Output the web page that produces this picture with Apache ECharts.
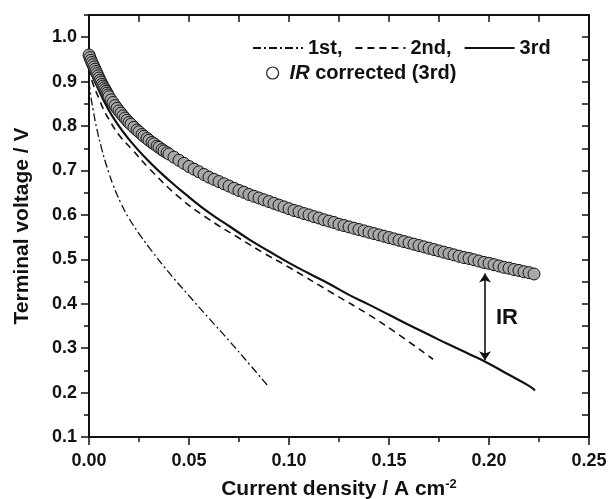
<!DOCTYPE html>
<html>
<head>
<meta charset="utf-8">
<script src="https://cdn.jsdelivr.net/npm/echarts@6/dist/echarts.min.js"></script>
<style>
  html, body { margin: 0; padding: 0; background: #fff; }
  #chart { width: 608px; height: 499px; }
</style>
</head>
<body>
<div id="chart"></div>
<script>
// 1st run (dash-dot)
const firstX = [0.000, 0.001, 0.002, 0.004, 0.006, 0.008, 0.010, 0.012, 0.016, 0.020, 0.025, 0.030, 0.040, 0.050, 0.060, 0.070, 0.080, 0.090];
const firstV = [0.900, 0.865, 0.838, 0.792, 0.755, 0.722, 0.694, 0.668, 0.626, 0.592, 0.558, 0.527, 0.470, 0.418, 0.367, 0.317, 0.265, 0.212];

// 2nd run (dashed)
const secondX = [0.000, 0.002, 0.005, 0.007, 0.010, 0.015, 0.022, 0.030, 0.045, 0.060, 0.075, 0.087, 0.100, 0.122, 0.140, 0.155, 0.172];
const secondV = [0.930, 0.895, 0.862, 0.840, 0.815, 0.780, 0.745, 0.705, 0.640, 0.590, 0.548, 0.515, 0.482, 0.423, 0.375, 0.330, 0.275];

// 3rd run (solid)
const thirdX = [0.000, 0.002, 0.005, 0.010, 0.015, 0.020, 0.030, 0.040, 0.050, 0.060, 0.070, 0.080, 0.090, 0.100, 0.110, 0.120, 0.130, 0.140, 0.150, 0.160, 0.170, 0.180, 0.190, 0.200, 0.210, 0.220, 0.223];
const thirdV = [0.950, 0.915, 0.880, 0.835, 0.800, 0.770, 0.720, 0.678, 0.640, 0.605, 0.575, 0.545, 0.518, 0.492, 0.468, 0.445, 0.420, 0.398, 0.375, 0.352, 0.330, 0.308, 0.287, 0.265, 0.240, 0.215, 0.205];

// IR corrected (3rd), open circles
const irX = [0.000, 0.0005, 0.001, 0.0015, 0.002, 0.0025, 0.003, 0.0035, 0.004, 0.0045, 0.005, 0.0055, 0.006, 0.0065, 0.007, 0.0075,
  0.008, 0.0085, 0.009, 0.0095, 0.010, 0.011, 0.012, 0.013, 0.014, 0.015, 0.016, 0.017, 0.018, 0.019, 0.020, 0.021,
  0.0225, 0.024, 0.025, 0.0265, 0.0275, 0.029, 0.030, 0.0315, 0.0325, 0.034, 0.035, 0.0365, 0.0375, 0.039, 0.040,
  0.0425, 0.045, 0.0475, 0.050, 0.0525, 0.055, 0.0575, 0.060,
  0.0625, 0.065, 0.0675, 0.070, 0.0725, 0.075, 0.0775, 0.080, 0.0825, 0.085, 0.0875, 0.090, 0.0925, 0.095, 0.0975, 0.100,
  0.1025, 0.105, 0.1075, 0.110, 0.1125, 0.115, 0.1175, 0.120, 0.1225, 0.125, 0.1275, 0.130, 0.1325, 0.135, 0.1375, 0.140,
  0.1425, 0.145, 0.1475, 0.150, 0.1525, 0.155, 0.1575, 0.160, 0.1625, 0.165, 0.1675, 0.170, 0.1725, 0.175, 0.1775, 0.180,
  0.1825, 0.185, 0.1875, 0.190, 0.1925, 0.195, 0.1975, 0.200, 0.2025, 0.205, 0.2075, 0.210, 0.2125, 0.215, 0.2175, 0.220, 0.2225];
const irV = [0.960, 0.954, 0.948, 0.943, 0.938, 0.933, 0.928, 0.923, 0.918, 0.913, 0.908, 0.903, 0.899, 0.894, 0.890, 0.886,
  0.882, 0.878, 0.874, 0.870, 0.866, 0.859, 0.853, 0.846, 0.840, 0.834, 0.829, 0.823, 0.818, 0.813, 0.808, 0.804,
  0.797, 0.791, 0.787, 0.781, 0.777, 0.772, 0.768, 0.763, 0.760, 0.755, 0.752, 0.747, 0.744, 0.740, 0.737,
  0.730, 0.723, 0.716, 0.709, 0.703, 0.697, 0.691, 0.685,
  0.680, 0.675, 0.670, 0.665, 0.660, 0.655, 0.651, 0.646, 0.642, 0.638, 0.634, 0.630, 0.626, 0.622, 0.618, 0.614,
  0.610, 0.607, 0.603, 0.600, 0.596, 0.593, 0.589, 0.586, 0.583, 0.579, 0.576, 0.573, 0.570, 0.567, 0.564, 0.561,
  0.558, 0.555, 0.552, 0.549, 0.546, 0.543, 0.540, 0.537, 0.534, 0.531, 0.528, 0.525, 0.522, 0.519, 0.516, 0.513,
  0.510, 0.507, 0.504, 0.502, 0.499, 0.496, 0.493, 0.491, 0.488, 0.485, 0.482, 0.480, 0.477, 0.475, 0.472, 0.470, 0.467];

const seriesNames = ["1st,", "2nd,", "3rd", "IR corrected (3rd)"];

// IR arrow annotation (data units)
const irArrowX = 0.198;
const irArrowFrom = 0.468;
const irArrowTo = 0.273;
const irLabelPos = [0.209, 0.369];

const FONT = "'Liberation Sans', Arial, sans-serif";
const zip = (xs, ys) => xs.map((x, i) => [x, ys[i]]);

const chart = echarts.init(document.getElementById("chart"), null, { renderer: "canvas" });

const tickLabel = { fontFamily: FONT, fontSize: 18, fontWeight: "bold", color: "#111" };
const frameLine = { show: true, onZero: false, lineStyle: { color: "#111", width: 2 } };

const option = {
  animation: false,
  backgroundColor: "#fff",
  // fixed plot box; do not let v6 shrink it to fit the labels
  grid: { left: 89, right: 19, top: 15, bottom: 62, outerBoundsMode: "none" },
  legend: [
    {
      data: seriesNames.slice(0, 3),
      left: 252,
      top: 38,
      padding: 0,
      itemWidth: 50,
      itemHeight: 12,
      itemGap: 12,
      // hide the marker dot, keep only the line sample
      itemStyle: { opacity: 0 },
      textStyle: { fontFamily: FONT, fontSize: 20, fontWeight: "bold", color: "#111" },
    },
    {
      data: [seriesNames[3]],
      left: 266,
      top: 63,
      padding: 0,
      itemWidth: 24,
      itemHeight: 12,
      itemStyle: { color: "#fff", borderColor: "#222", borderWidth: 1.2 },
      textStyle: {
        fontFamily: FONT, fontSize: 20, fontWeight: "bold", color: "#111",
        rich: { i: { fontFamily: FONT, fontSize: 20, fontWeight: "bold", fontStyle: "italic", color: "#111" } },
      },
      formatter: () => "{i|IR} corrected (3rd)",
    },
  ],
  xAxis: [
    {
      type: "value", position: "bottom", min: 0, max: 0.25, interval: 0.05,
      axisLine: frameLine,
      axisTick: { show: true, inside: false, length: 8, lineStyle: { color: "#111", width: 1.5 } },
      minorTick: { show: true, splitNumber: 2, length: 5, lineStyle: { color: "#111", width: 1.5 } },
      splitLine: { show: false },
      axisLabel: { ...tickLabel, margin: 15, formatter: (v) => v.toFixed(2) },
      name: "{a|Current density / A cm}{s|-2}",
      nameLocation: "middle",
      nameGap: 41,
      nameTextStyle: {
        rich: {
          a: { fontFamily: FONT, fontSize: 21, fontWeight: "bold", color: "#111", lineHeight: 22 },
          s: { fontFamily: FONT, fontSize: 13, fontWeight: "bold", color: "#111", verticalAlign: "top", lineHeight: 22 },
        },
      },
    },
    {
      type: "value", position: "top", min: 0, max: 0.25, interval: 0.025,
      axisLine: frameLine,
      axisTick: { show: true, inside: true, length: 7, lineStyle: { color: "#111", width: 1.5 } },
      splitLine: { show: false },
      axisLabel: { show: false },
    },
  ],
  yAxis: [
    {
      type: "value", position: "left", min: 0.1, max: 1.05, interval: 0.1,
      axisLine: frameLine,
      axisTick: { show: true, inside: false, length: 8, lineStyle: { color: "#111", width: 1.5 } },
      splitLine: { show: false },
      axisLabel: { ...tickLabel, margin: 12, showMaxLabel: false, formatter: (v) => (v > 1.01 ? "" : v.toFixed(1)) },
      name: "Terminal voltage / V",
      nameLocation: "middle",
      nameGap: 56,
      nameTextStyle: { fontFamily: FONT, fontSize: 21, fontWeight: "bold", color: "#111" },
    },
    {
      type: "value", position: "left", min: 0.1, max: 1.05, interval: 0.05,
      axisLine: { show: false },
      axisTick: { show: true, inside: false, length: 5, lineStyle: { color: "#111", width: 1.5 } },
      splitLine: { show: false },
      axisLabel: { show: false },
    },
    {
      type: "value", position: "right", min: 0.1, max: 1.05, interval: 0.05,
      axisLine: frameLine,
      axisTick: { show: true, inside: true, length: 7, lineStyle: { color: "#111", width: 1.5 } },
      splitLine: { show: false },
      axisLabel: { show: false },
    },
  ],
  series: [
    {
      name: seriesNames[0],
      type: "line",
      data: zip(firstX, firstV),
      symbol: "none",
      smooth: true,
      lineStyle: { color: "#111", width: 1.3, type: [8, 3, 2, 3] },
      itemStyle: { color: "#111" },
    },
    {
      name: seriesNames[1],
      type: "line",
      data: zip(secondX, secondV),
      symbol: "none",
      smooth: true,
      lineStyle: { color: "#111", width: 1.6, type: [7, 5] },
      itemStyle: { color: "#111" },
    },
    {
      name: seriesNames[2],
      type: "line",
      data: zip(thirdX, thirdV),
      symbol: "none",
      smooth: true,
      lineStyle: { color: "#111", width: 2.2, type: "solid" },
      itemStyle: { color: "#111" },
      markLine: {
        silent: true,
        symbol: ["arrow", "arrow"],
        symbolSize: 9,
        label: { show: false },
        lineStyle: { color: "#111", width: 1.6, type: "solid" },
        data: [[{ coord: [irArrowX, irArrowFrom] }, { coord: [irArrowX, irArrowTo] }]],
      },
      markPoint: {
        silent: true,
        symbol: "circle",
        symbolSize: 0,
        label: { show: true, formatter: "IR", fontFamily: FONT, fontSize: 22, fontWeight: "bold", color: "#111" },
        data: [{ coord: irLabelPos }],
      },
    },
    {
      name: seriesNames[3],
      type: "scatter",
      data: zip(irX, irV),
      symbol: "circle",
      symbolSize: 12,
      itemStyle: { color: "#a8a8a8", borderColor: "#151515", borderWidth: 1, opacity: 1 },
      z: 3,
    },
  ],
};

chart.setOption(option);
</script>
</body>
</html>
